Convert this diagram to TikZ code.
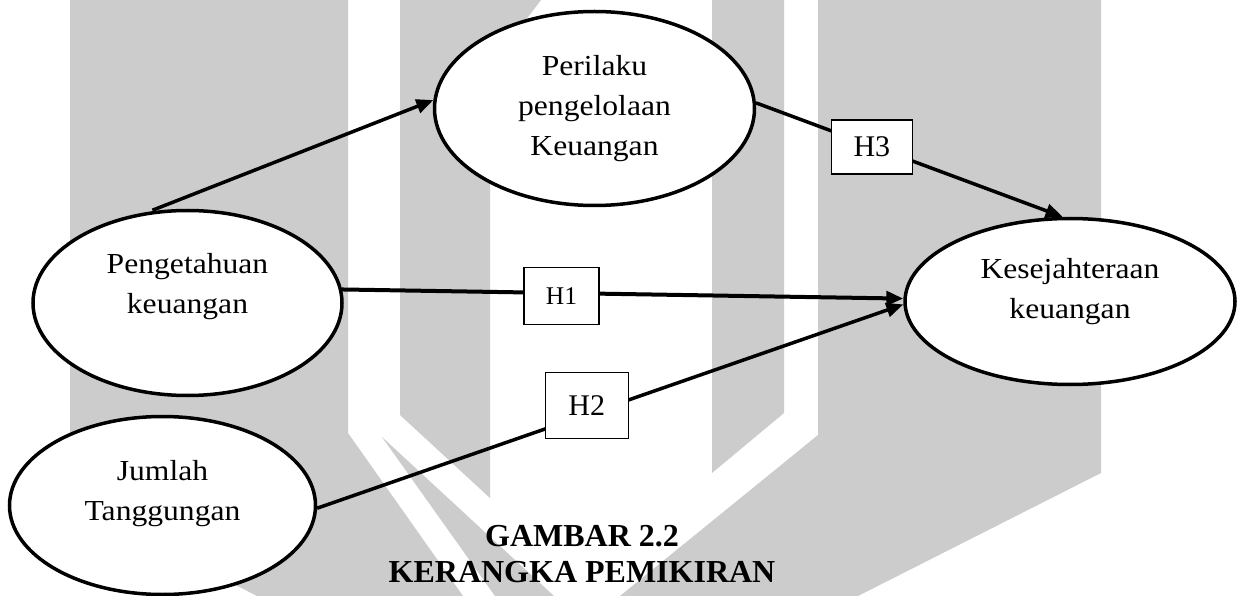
\documentclass[tikz,border=0pt]{standalone}
\usepackage{fontspec}
\setmainfont{Liberation Serif}
\newfontfamily\stretchfont{Liberation Serif}[FakeStretch=1.09]
\usetikzlibrary{shapes.geometric,arrows.meta}
\definecolor{wm}{RGB}{204,204,204}
\newcommand{\celltext}[2]{\raisebox{#1}[\height][\depth]{\begin{tabular}{@{}c@{}}#2\end{tabular}}}
\begin{document}
\begin{tikzpicture}[x=1pt,y=-1pt,
  ell/.style={ellipse,draw,line width=3.5pt,fill=white,inner sep=0pt,
    font=\stretchfont\fontsize{29pt}{40pt}\selectfont},
  hbox/.style={draw,line width=1.3pt,fill=white,inner sep=0pt,
    font=\fontsize{30pt}{36pt}\selectfont},
  conn/.style={line width=3.5pt,-{Triangle[length=17pt,width=14pt]}},
  wmark/.style={fill=wm}]
\fill[white] (0,0) rectangle (1243,596);
\useasboundingbox (0,0) rectangle (1243,596);
% watermark
\fill[wmark] (70,0) -- (348,0) -- (348,433) -- (463,596) -- (257,596) -- (70,500) -- cycle;
\fill[wmark] (382,437) -- (554,596) -- (495,596) -- cycle;
\fill[wmark] (400,0) -- (541,0) -- (490,67) -- (490,498) -- (400,415) -- cycle;
\fill[wmark] (712,0) -- (784,0) -- (784,413) -- (712,473) -- cycle;
\fill[wmark] (818,0) -- (1101,0) -- (1101,473) -- (858,596) -- (620,596) -- (818,435) -- cycle;
% ellipses
\node[ell,minimum width=309pt,minimum height=185pt] (pk) at (187.5,303)
  {\celltext{18pt}{Pengetahuan\\keuangan}};
\node[ell,minimum width=320pt,minimum height=194pt] (pb) at (594.5,108.5)
  {\celltext{1pt}{Perilaku\\pengelolaan\\Keuangan}};
\node[ell,minimum width=330pt,minimum height=166pt] (ks) at (1070,301.5)
  {\celltext{11pt}{Kesejahteraan\\keuangan}};
\node[ell,minimum width=306pt,minimum height=178pt] (jt) at (162.5,505.5)
  {\celltext{13pt}{Jumlah\\Tanggungan}};
% connectors
\draw[conn,shorten <=4pt] (pk.113) -- (pb.177);
\draw[conn] (pb.2) -- node[hbox,pos=0.378,yshift=-1pt,minimum width=81pt,minimum height=54pt] (h3) {H3} (ks.95);
\draw[conn,line width=4pt] (pk.5) -- node[hbox,pos=0.391,yshift=-3pt,minimum width=75pt,minimum height=57pt,font=\fontsize{25.5pt}{30pt}\selectfont] (h1) {H1} (ks.179);
\draw[conn] (jt.-1) -- node[hbox,pos=0.46,yshift=9pt,minimum width=83pt,minimum height=66pt] (h2) {H2} (ks.181);
% caption
\node[font=\bfseries\fontsize{32pt}{36pt}\selectfont] (cap) at (582,557)
  {\celltext{0pt}{GAMBAR 2.2\\KERANGKA PEMIKIRAN}};
\end{tikzpicture}
\end{document}
